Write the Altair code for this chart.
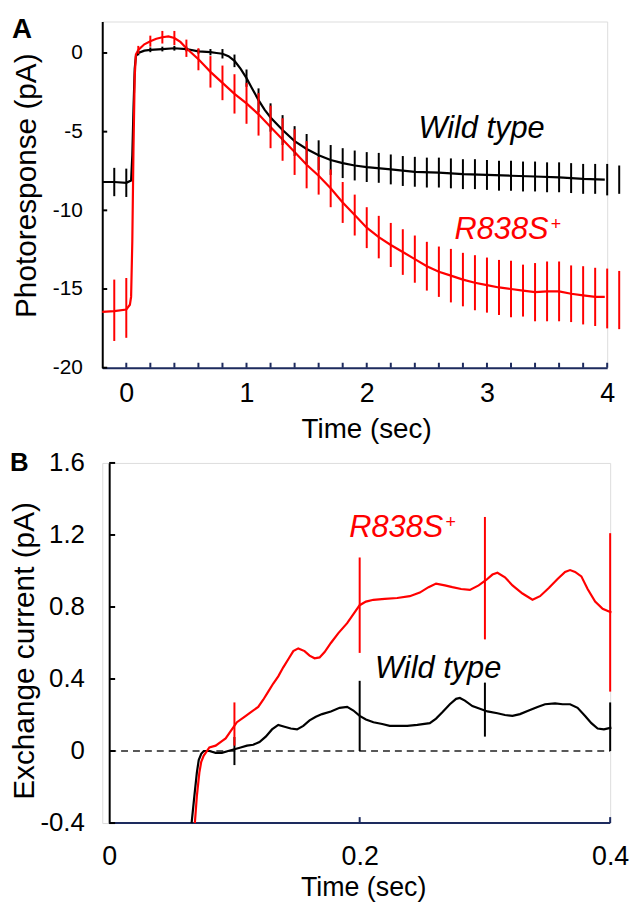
import altair as alt
import pandas as pd

NAVY = "#1d2b5e"
RED = "#ff0000"
FONT = "Liberation Sans"

# ---------------- Panel A data ----------------
a_wt_t = [-0.2, -0.1, 0.0, 0.04, 0.05, 0.06, 0.07, 0.08, 0.1, 0.15, 0.2, 0.3, 0.4, 0.5, 0.6, 0.7,
          0.75, 0.8, 0.85, 0.9, 0.95, 1.0, 1.05, 1.1, 1.15, 1.2, 1.3, 1.4, 1.5, 1.6, 1.7, 1.8, 1.9,
          2.0, 2.2, 2.4, 2.6, 2.8, 3.0, 3.2, 3.4, 3.6, 3.8, 3.98]
a_wt_v = [-8.2, -8.2, -8.25, -8.1, -6.5, -3.5, -1.0, -0.2, 0.0, 0.15, 0.2, 0.25, 0.3, 0.25, 0.1, 0.05,
          0.0, -0.05, -0.2, -0.5, -1.0, -1.6, -2.3, -3.0, -3.6, -4.1, -4.9, -5.6, -6.1, -6.5, -6.8, -7.0, -7.15,
          -7.25, -7.4, -7.55, -7.6, -7.7, -7.75, -7.8, -7.85, -7.9, -8.0, -8.05]

a_mut_t = [-0.2, -0.1, 0.0, 0.03, 0.04, 0.05, 0.06, 0.07, 0.08, 0.1, 0.15, 0.2, 0.25, 0.3, 0.35, 0.4,
           0.45, 0.5, 0.55, 0.6, 0.65, 0.7, 0.8, 0.9, 1.0, 1.1, 1.2, 1.3, 1.4, 1.5, 1.6, 1.7, 1.8, 1.9,
           2.0, 2.1, 2.2, 2.3, 2.4, 2.5, 2.6, 2.7, 2.8, 2.9, 3.0, 3.1, 3.2, 3.3, 3.4, 3.5, 3.6, 3.7,
           3.8, 3.9, 3.98]
a_mut_v = [-16.45, -16.4, -16.3, -16.0, -15.5, -12.0, -6.0, -1.5, -0.1, 0.2, 0.55, 0.75, 0.9, 1.0, 1.05, 0.95,
           0.7, 0.3, -0.05, -0.4, -0.8, -1.2, -1.9, -2.6, -3.2, -3.9, -4.7, -5.5, -6.3, -7.1, -7.8, -8.6, -9.5, -10.3,
           -11.1, -11.7, -12.2, -12.65, -13.1, -13.55, -13.9, -14.15, -14.4, -14.6, -14.75, -14.9, -15.0, -15.1,
           -15.2, -15.15, -15.15, -15.3, -15.4, -15.5, -15.5]

a_bar_t = [-0.1, 0.0, 0.1, 0.2, 0.3, 0.4, 0.5, 0.6, 0.7, 0.8, 0.9, 1.0, 1.1, 1.2, 1.3, 1.4, 1.5,
           1.6, 1.7, 1.8, 1.9, 2.0, 2.1, 2.2, 2.3, 2.4, 2.5, 2.6, 2.7, 2.8, 2.9, 3.0, 3.1, 3.2,
           3.3, 3.4, 3.5, 3.6, 3.7, 3.8, 3.9, 4.0, 4.1]
a_wt_bar_c = [-8.2, -8.25, 0.0, 0.2, 0.25, 0.3, 0.25, 0.1, 0.05, -0.05, -0.5, -1.6, -3.0, -4.1, -4.9, -5.6, -6.1,
              -6.5, -6.8, -7.0, -7.15, -7.25, -7.3, -7.4, -7.5, -7.55, -7.6, -7.6, -7.65, -7.7, -7.7, -7.75, -7.8,
              -7.8, -7.85, -7.85, -7.9, -7.9, -7.95, -8.0, -8.0, -8.05, -8.05]
a_wt_bar_e = [0.9, 0.9, 0.15, 0.15, 0.15, 0.15, 0.15, 0.15, 0.2, 0.3, 0.4, 0.55, 0.75, 0.9, 0.95, 0.95, 0.95,
              0.95, 0.95, 0.95, 0.95, 0.95, 0.95, 0.95, 0.95, 0.95, 0.95, 0.95, 0.95, 0.95, 0.95, 0.95, 0.95,
              0.95, 0.95, 0.95, 0.95, 0.95, 0.95, 0.95, 0.95, 1.0, 0.9]
a_mut_bar_c = [-16.35, -16.2, 0.2, 0.75, 1.0, 0.95, 0.3, -0.4, -1.2, -1.9, -2.6, -3.2, -3.9, -4.7, -5.5, -6.3, -7.1,
               -7.8, -8.6, -9.5, -10.3, -11.1, -11.7, -12.2, -12.65, -13.1, -13.55, -13.9, -14.15, -14.4, -14.6,
               -14.75, -14.9, -15.0, -15.1, -15.2, -15.15, -15.15, -15.3, -15.4, -15.5, -15.6, -15.7]
a_mut_bar_e = [1.95, 1.9, 0.25, 0.35, 0.4, 0.45, 0.55, 0.7, 1.0, 1.1, 1.25, 1.3, 1.35, 1.35, 1.35, 1.45, 1.5,
               1.2, 1.2, 1.3, 1.3, 1.3, 1.35, 1.4, 1.45, 1.5, 1.55, 1.6, 1.7, 1.7, 1.75, 1.75, 1.75, 1.8,
               1.65, 1.85, 1.9, 1.9, 1.8, 1.85, 1.85, 1.9, 1.85]

a_xticks = [0.0, 0.2, 0.4, 0.6, 0.8, 1.0, 1.2, 1.4, 1.6, 1.8, 2.0, 2.2, 2.4, 2.6, 2.8, 3.0, 3.2, 3.4,
            3.6, 3.8, 4.0]
a_xlabels = [0, 1, 2, 3, 4]
a_yticks = [-20, -15, -10, -5, 0]

# ---------------- Panel B data ----------------
b_wt_t = [0.0658, 0.068, 0.070, 0.0715, 0.0735, 0.0755, 0.08, 0.085, 0.09, 0.095, 0.1, 0.105, 0.11, 0.115,
          0.12, 0.125, 0.13, 0.135, 0.14, 0.145, 0.15, 0.155, 0.16, 0.165, 0.17, 0.177, 0.184, 0.19, 0.195,
          0.2, 0.205, 0.211, 0.218, 0.224, 0.23, 0.238, 0.246, 0.256, 0.261, 0.266, 0.272, 0.277, 0.28,
          0.284, 0.29, 0.296, 0.302, 0.31, 0.316, 0.322, 0.328, 0.335, 0.342, 0.348, 0.356, 0.362, 0.368,
          0.374, 0.38, 0.385, 0.39, 0.395, 0.401]
b_wt_v = [-0.4, -0.25, -0.12, -0.05, -0.015, 0.0, 0.0, -0.01, -0.01, 0.0, 0.01, 0.02, 0.03, 0.035,
          0.05, 0.08, 0.12, 0.145, 0.135, 0.125, 0.12, 0.14, 0.17, 0.19, 0.205, 0.22, 0.24, 0.245, 0.225,
          0.195, 0.175, 0.16, 0.15, 0.14, 0.14, 0.14, 0.145, 0.155, 0.18, 0.215, 0.26, 0.29, 0.295,
          0.28, 0.25, 0.235, 0.22, 0.21, 0.2, 0.195, 0.205, 0.225, 0.245, 0.26, 0.265, 0.26, 0.26,
          0.24, 0.195, 0.155, 0.125, 0.12, 0.13]

b_mut_t = [0.0684, 0.070, 0.072, 0.0735, 0.0755, 0.078, 0.08, 0.085, 0.09, 0.093, 0.097, 0.102, 0.108,
           0.114, 0.119, 0.123, 0.127, 0.131, 0.135, 0.139, 0.143, 0.147, 0.151, 0.156, 0.16, 0.164,
           0.168, 0.172, 0.177, 0.183, 0.19, 0.195, 0.2, 0.205, 0.211, 0.22, 0.23, 0.24, 0.248, 0.255,
           0.261, 0.268, 0.274, 0.281, 0.288, 0.295, 0.301, 0.306, 0.31, 0.316, 0.322, 0.33, 0.338,
           0.344, 0.351, 0.358, 0.364, 0.368, 0.372, 0.377, 0.382, 0.388, 0.394, 0.401]
b_mut_v = [-0.4, -0.25, -0.12, -0.06, -0.025, 0.0, 0.02, 0.03, 0.055, 0.07, 0.11, 0.16, 0.19,
           0.22, 0.245, 0.285, 0.33, 0.375, 0.415, 0.465, 0.51, 0.555, 0.57, 0.555, 0.53, 0.515,
           0.52, 0.55, 0.6, 0.655, 0.71, 0.76, 0.81, 0.83, 0.84, 0.845, 0.85, 0.86, 0.88, 0.91,
           0.93, 0.92, 0.91, 0.9, 0.895, 0.92, 0.95, 0.98, 0.99, 0.965, 0.92, 0.875, 0.84,
           0.86, 0.905, 0.955, 0.995, 1.005, 0.995, 0.97, 0.9, 0.83, 0.79, 0.77]

b_bar_t = [0.1, 0.2, 0.3, 0.4]
b_wt_bar_c = [0.0, 0.195, 0.23, 0.135]
b_wt_bar_e = [0.078, 0.195, 0.15, 0.135]
b_mut_bar_c = [0.15, 0.81, 0.96, 0.77]
b_mut_bar_e = [0.12, 0.265, 0.34, 0.44]

b_xticks = [0.2, 0.4]
b_xlabels = [0, 0.2, 0.4]
b_yticks = [-0.4, 0.0, 0.4, 0.8, 1.2, 1.6]

MINUS_FIX = "replace(datum.label, '\u2212', '-')"


def bars(ts, cs, es):
    return pd.DataFrame({"t": ts, "lo": [c - e for c, e in zip(cs, es)],
                         "hi": [c + e for c, e in zip(cs, es)]})


one = pd.DataFrame({"k": [0]})

# ---------------- Panel A ----------------
xsA = alt.Scale(domain=[-0.2, 4], nice=False, zero=False)
ysA = alt.Scale(domain=[-20, 2], nice=False, zero=False)

axA_x = alt.Axis(values=a_xlabels, format="d", labelFontSize=27, labelPadding=13, labelFlush=False,
                 ticks=False, tickSize=0, domainColor=NAVY, domainWidth=2, grid=False,
                 title="Time (sec)", titleFontSize=28, titleFontWeight="normal", titleX=266,
                 titleY=70, titleBaseline="alphabetic", titleAlign="center")
axA_y = alt.Axis(values=a_yticks, labelExpr=MINUS_FIX, labelFontSize=21, labelPadding=20,
                 ticks=False, tickSize=0, domainColor="black", domainWidth=2, grid=False,
                 title="Photoresponse (pA)", titleFontSize=30, titleFontWeight="normal",
                 titleX=-67, titleY=165, titleBaseline="alphabetic", titleAlign="center")

A_wt = alt.Chart(pd.DataFrame({"t": a_wt_t, "v": a_wt_v})).mark_line(
    color="black", strokeWidth=2.2).encode(
    x=alt.X("t:Q", scale=xsA, axis=axA_x), y=alt.Y("v:Q", scale=ysA, axis=axA_y))
A_mut = alt.Chart(pd.DataFrame({"t": a_mut_t, "v": a_mut_v})).mark_line(
    color=RED, strokeWidth=2.2).encode(x="t:Q", y="v:Q")
A_wt_bars = alt.Chart(bars(a_bar_t, a_wt_bar_c, a_wt_bar_e)).mark_rule(
    color="black", strokeWidth=2).encode(x="t:Q", y="lo:Q", y2="hi:Q")
A_mut_bars = alt.Chart(bars(a_bar_t, a_mut_bar_c, a_mut_bar_e)).mark_rule(
    color=RED, strokeWidth=2).encode(x="t:Q", y="lo:Q", y2="hi:Q")
A_xt = alt.Chart(pd.DataFrame({"t": a_xticks})).mark_rule(
    color=NAVY, strokeWidth=2, y2Offset=-5).encode(
    x="t:Q", y=alt.datum(-20), y2=alt.datum(-20))
A_yt = alt.Chart(pd.DataFrame({"v": a_yticks})).mark_rule(
    color="black", strokeWidth=2, x2Offset=5).encode(
    y="v:Q", x=alt.datum(-0.2), x2=alt.datum(-0.2))
A_txt_wt = alt.Chart(one).mark_text(
    text="Wild type", font=FONT, fontSize=31, fontStyle="italic", color="black",
    align="left", baseline="alphabetic").encode(x=alt.datum(2.43), y=alt.datum(-5.375))
A_txt_mut = alt.Chart(one).mark_text(
    text="R838S", font=FONT, fontSize=31, fontStyle="italic", color=RED,
    align="left", baseline="alphabetic").encode(x=alt.datum(2.73), y=alt.datum(-11.8))
A_txt_plus = alt.Chart(one).mark_text(
    text="+", font=FONT, fontSize=18, color=RED,
    align="left", baseline="alphabetic").encode(x=alt.datum(3.53), y=alt.datum(-11.24))
A_lab = alt.Chart(one).mark_text(
    text="A", font=FONT, fontSize=28, fontWeight="bold", color="black",
    align="left", baseline="alphabetic").encode(x=alt.value(-91), y=alt.value(17))
# invisible (white) anchor that fixes the top-left corner of the whole figure
A_anchor = alt.Chart(one).mark_rule(color="white", strokeWidth=1).encode(
    x=alt.value(-94), y=alt.value(-9), y2=alt.value(-8))

panelA = alt.layer(A_anchor, A_wt, A_mut, A_wt_bars, A_mut_bars, A_xt, A_yt,
                   A_txt_wt, A_txt_mut, A_txt_plus, A_lab).properties(width=509, height=349)

# ---------------- Panel B ----------------
# plot area starts 7 px left of t = 0 so that panel B's axis sits 7 px right of panel A's
xsB = alt.Scale(domain=[-0.005545, 0.4], nice=False, zero=False)
ysB = alt.Scale(domain=[-0.4, 1.6], nice=False, zero=False)

axB_x = alt.Axis(values=b_xlabels, format=".1~f", labelFontSize=27, labelPadding=21, labelFlush=False,
                 ticks=False, tickSize=0, domain=False, grid=False,
                 title="Time (sec)", titleFontSize=27, titleFontWeight="normal", titleX=263,
                 titleY=73, titleBaseline="alphabetic", titleAlign="center")
axB_y = alt.Axis(values=b_yticks, format=".1~f", labelExpr=MINUS_FIX, labelFontSize=26, labelPadding=25,
                 ticks=False, tickSize=0, domainColor="black", domainWidth=2, grid=False, offset=-7,
                 title="Exchange current (pA)", titleFontSize=30, titleFontWeight="normal",
                 titleX=-76, titleY=189, titleBaseline="alphabetic", titleAlign="center")

B_wt = alt.Chart(pd.DataFrame({"t": b_wt_t, "v": b_wt_v})).mark_line(
    color="black", strokeWidth=2.2).encode(
    x=alt.X("t:Q", scale=xsB, axis=axB_x), y=alt.Y("v:Q", scale=ysB, axis=axB_y))
B_mut = alt.Chart(pd.DataFrame({"t": b_mut_t, "v": b_mut_v})).mark_line(
    color=RED, strokeWidth=2.2).encode(x="t:Q", y="v:Q")
B_wt_bars = alt.Chart(bars(b_bar_t, b_wt_bar_c, b_wt_bar_e)).mark_rule(
    color="black", strokeWidth=2).encode(x="t:Q", y="lo:Q", y2="hi:Q")
B_mut_bars = alt.Chart(bars(b_bar_t, b_mut_bar_c, b_mut_bar_e)).mark_rule(
    color=RED, strokeWidth=2).encode(x="t:Q", y="lo:Q", y2="hi:Q")
B_zero = alt.Chart(one).mark_rule(color="#222222", strokeWidth=1.5, strokeDash=[7, 5]).encode(
    x=alt.datum(0), x2=alt.datum(0.4), y=alt.datum(0))
B_base = alt.Chart(one).mark_rule(color=NAVY, strokeWidth=2).encode(
    x=alt.datum(0), x2=alt.datum(0.4), y=alt.datum(-0.4))
B_xt = alt.Chart(pd.DataFrame({"t": b_xticks})).mark_rule(
    color=NAVY, strokeWidth=2, y2Offset=-6).encode(
    x="t:Q", y=alt.datum(-0.4), y2=alt.datum(-0.4))
B_yt = alt.Chart(pd.DataFrame({"v": b_yticks})).mark_rule(
    color="black", strokeWidth=2, x2Offset=6).encode(
    y="v:Q", x=alt.datum(0), x2=alt.datum(0))
B_txt_mut = alt.Chart(one).mark_text(
    text="R838S", font=FONT, fontSize=31, fontStyle="italic", color=RED,
    align="left", baseline="alphabetic").encode(x=alt.datum(0.1917), y=alt.datum(1.187))
B_txt_plus = alt.Chart(one).mark_text(
    text="+", font=FONT, fontSize=18, color=RED,
    align="left", baseline="alphabetic").encode(x=alt.datum(0.2685), y=alt.datum(1.236))
B_txt_wt = alt.Chart(one).mark_text(
    text="Wild type", font=FONT, fontSize=31, fontStyle="italic", color="black",
    align="left", baseline="alphabetic").encode(x=alt.datum(0.2123), y=alt.datum(0.403))
B_lab = alt.Chart(one).mark_text(
    text="B", font=FONT, fontSize=26, fontWeight="bold", color="black",
    align="left", baseline="alphabetic").encode(x=alt.value(-93), y=alt.value(8))
B_anchor = alt.Chart(one).mark_rule(color="white", strokeWidth=1).encode(
    x=alt.value(60), y=alt.value(-15), y2=alt.value(-14))

panelB = alt.layer(B_anchor, B_zero, B_base, B_wt, B_mut, B_wt_bars, B_mut_bars, B_xt, B_yt,
                   B_txt_mut, B_txt_plus, B_txt_wt, B_lab).properties(width=512, height=363)

chart = alt.vconcat(panelA, panelB, spacing=3).properties(
    padding=0
).configure_view(strokeOpacity=0, strokeWidth=0).configure_axis(
    labelFont=FONT, titleFont=FONT, labelColor="black", titleColor="black"
).configure(background="white")

chart.save("out.html", embed_options={"renderer": "svg", "actions": False})
